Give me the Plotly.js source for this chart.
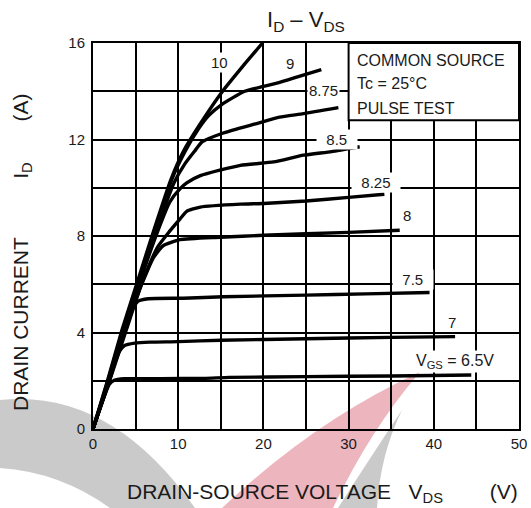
<!DOCTYPE html>
<html>
<head>
<meta charset="utf-8">
<script src="https://cdn.plot.ly/plotly-3.0.1.min.js"></script>
<style>
  html, body { margin: 0; padding: 0; background: #ffffff; }
  #chart { width: 531px; height: 508px; }
</style>
</head>
<body>
<div id="chart"></div>
<script>
// Output characteristics I_D vs V_DS, one curve per gate voltage (V)
const gateVoltages = ["6.5", "7", "7.5", "8", "8.25", "8.5", "8.75", "9", "10"];

const vds_65 = [0, 1.0, 1.9, 2.5, 3.7, 8, 13, 16, 25, 35, 44.4];
const id_65  = [0, 1.05, 1.85, 2.02, 2.08, 2.09, 2.1, 2.14, 2.17, 2.2, 2.24];

const vds_7 = [0, 1.4, 2.5, 3.1, 3.7, 4.9, 6.7, 10, 15, 25, 35, 42.5];
const id_7  = [0, 1.5, 2.7, 3.22, 3.46, 3.56, 3.6, 3.62, 3.68, 3.74, 3.8, 3.83];

const vds_75 = [0, 1.9, 3.7, 4.5, 5.3, 6.5, 10.6, 15.3, 25, 32, 39.5];
const id_75  = [0, 2.0, 4.2, 4.93, 5.3, 5.4, 5.42, 5.48, 5.55, 5.6, 5.66];

const vds_8 = [0, 1.95, 3.9, 5.6, 7.1, 8.25, 10.2, 14.9, 20, 30, 36];
const id_8  = [0, 2, 4.1, 5.9, 7.1, 7.6, 7.85, 7.95, 8.03, 8.15, 8.24];

const vds_825 = [0, 1.9, 3.8, 5.8, 7.6, 9.0, 10.2, 11.0, 12.6, 17.3, 20, 25, 30, 34.2];
const id_825  = [0, 2, 4.1, 6.1, 7.55, 8.2, 8.7, 9.02, 9.2, 9.32, 9.35, 9.45, 9.6, 9.73];

const vds_85 = [0, 1.85, 3.7, 5.6, 7.6, 9.0, 10.2, 11.0, 12.6, 17.3, 21.2, 24.7, 28, 31.3];
const id_85  = [0, 2, 4.1, 6.2, 8.2, 9.4, 9.95, 10.2, 10.5, 10.93, 11.07, 11.35, 11.5, 11.7];

const vds_875 = [0, 1.8, 3.6, 5.5, 7.5, 9.5, 10.8, 12.0, 12.8, 15.3, 19.2, 21.9, 24.7, 28.8];
const id_875  = [0, 2, 4.1, 6.2, 8.3, 10.2, 11.0, 11.55, 11.9, 12.27, 12.66, 12.93, 13.07, 13.32];

const vds_9 = [0, 1.75, 3.5, 5.4, 7.3, 9.2, 10.8, 12.4, 13.6, 15.1, 17.8, 20, 22, 24, 26.8];
const id_9  = [0, 2, 4.1, 6.2, 8.3, 10.3, 11.5, 12.45, 13.0, 13.45, 14.0, 14.2, 14.38, 14.6, 14.9];

const vds_10 = [0, 1.7, 3.4, 5.3, 7.2, 9.1, 10.6, 12.5, 15.1, 17.5, 19.9];
const id_10  = [0, 2, 4.1, 6.2, 8.3, 10.3, 11.5, 12.6, 13.95, 15.0, 16.0];

const curveX = [vds_65, vds_7, vds_75, vds_8, vds_825, vds_85, vds_875, vds_9, vds_10];
const curveY = [id_65, id_7, id_75, id_8, id_825, id_85, id_875, id_9, id_10];

// Curve labels: text and anchor point in data units; boxed ones sit on grid lines
const labelText = ["V<sub>GS</sub> = 6.5V", "7", "7.5", "8", "8.25", "8.5", "8.75", "9", "10"];
const labelX = [42.5, 42.1, 37.6, 36.8, 33.2, 28.6, 27.1, 23.1, 14.8];
const labelY = [2.79, 4.4, 6.2, 8.86, 10.2, 12.0, 14.04, 15.17, 15.2];
const labelBoxed = [true, false, true, false, true, true, true, false, true];
const labelPad = [0, 0, 2, 0, 2, 2, 0, 0, 0];
const labelSize = [16, 15, 15, 15, 15, 15, 15, 15, 15];

const xTicks = [0, 10, 20, 30, 40, 50];
const yTicks = [0, 4, 8, 12, 16];

const FONT = '"Liberation Sans", Arial, Helvetica, sans-serif';
const INK = '#1a1a1a';

const traces = curveX.map((xs, k) => ({
  type: 'scatter',
  mode: 'lines',
  x: xs,
  y: curveY[k],
  name: 'VGS = ' + gateVoltages[k] + ' V',
  line: { color: '#000000', width: 3.4, shape: 'spline', smoothing: 0.5 },
  hoverinfo: 'skip'
}));

// plot box in pixels, used to place decorative watermark paths
const L = 93, R = 519, T = 43, B = 429;
const px = (x, y) => ((x - L) / (R - L)).toFixed(4) + ',' + ((B - y) / (B - T)).toFixed(4);

const nb = n => '\u00a0'.repeat(n);

const annotations = labelText.map((t, k) => ({
  x: labelX[k], y: labelY[k], xref: 'x', yref: 'y',
  text: nb(labelPad[k]) + t + nb(labelPad[k]),
  showarrow: false,
  font: { family: FONT, size: labelSize[k], color: INK },
  bgcolor: labelBoxed[k] ? '#ffffff' : 'rgba(0,0,0,0)',
  borderpad: 1,
  xanchor: 'center', yanchor: 'middle'
}));

// condition box text
const boxLines = ["COMMON SOURCE", "Tc = 25°C", "PULSE TEST"];
const boxLineY = [15.28, 14.31, 13.3];
boxLines.forEach((t, k) => annotations.push({
  x: 30.7, y: boxLineY[k], xref: 'x', yref: 'y', text: t, showarrow: false,
  xanchor: 'left', yanchor: 'middle',
  font: { family: FONT, size: 16, color: INK }
}));

// chart title
annotations.push({
  xref: 'paper', yref: 'paper', x: 0.5, y: 1, yshift: 22, xanchor: 'center', yanchor: 'middle',
  text: 'I<sub>D</sub> – V<sub>DS</sub>', showarrow: false,
  font: { family: FONT, size: 22, color: INK }
});
// axis titles
annotations.push({
  xref: 'paper', yref: 'paper', x: 0, y: 0, xshift: 229, yshift: -64, xanchor: 'center', yanchor: 'middle',
  text: 'DRAIN-SOURCE VOLTAGE' + nb(3) + 'V<sub>DS</sub>' + nb(8) + '(V)', showarrow: false,
  font: { family: FONT, size: 21, color: INK }
});
annotations.push({
  xref: 'paper', yref: 'paper', x: 0, y: 0.5, xshift: -71, yshift: -17, xanchor: 'center', yanchor: 'middle',
  textangle: -90,
  text: 'DRAIN CURRENT' + nb(10) + 'I<sub>D</sub>' + nb(7) + '(A)', showarrow: false,
  font: { family: FONT, size: 21, color: INK }
});

const shapes = [
  // watermark swooshes behind the grid
  { type: 'path', xref: 'paper', yref: 'paper', layer: 'below', line: { width: 0 },
    fillcolor: 'rgba(150,150,150,0.5)',
    path: 'M' + px(0, 400) + ' Q' + px(110, 388) + ' ' + px(195, 508) +
          ' L' + px(110, 508) + ' Q' + px(60, 472) + ' ' + px(0, 468) + ' Z' },
  { type: 'path', xref: 'paper', yref: 'paper', layer: 'below', line: { width: 0 },
    fillcolor: 'rgba(215,90,110,0.45)',
    path: 'M' + px(420, 372) + ' Q' + px(315, 420) + ' ' + px(222, 508) +
          ' L' + px(333, 508) + ' Q' + px(370, 430) + ' ' + px(420, 372) + ' Z' },
  { type: 'path', xref: 'paper', yref: 'paper', layer: 'below', line: { width: 0 },
    fillcolor: 'rgba(150,150,150,0.5)',
    path: 'M' + px(402, 410) + ' Q' + px(380, 455) + ' ' + px(377, 508) +
          ' L' + px(338, 508) + ' Q' + px(372, 455) + ' ' + px(402, 410) + ' Z' },
  // condition box
  { type: 'rect', xref: 'x', yref: 'y', x0: 30, x1: 50, y0: 12.8, y1: 16, layer: 'above',
    fillcolor: '#ffffff', line: { color: '#000000', width: 2 } }
];

const axisCommon = {
  showline: true, mirror: true, linecolor: '#000000', linewidth: 2,
  showgrid: true, gridcolor: '#000000', gridwidth: 2,
  zeroline: false, ticks: '', fixedrange: true,
  tickfont: { family: FONT, size: 15, color: INK }
};

const layout = {
  width: 531, height: 508,
  margin: { l: L, r: 531 - R, t: T, b: 508 - B, pad: 0 },
  paper_bgcolor: '#ffffff',
  plot_bgcolor: 'rgba(0,0,0,0)',
  showlegend: false,
  xaxis: Object.assign({}, axisCommon, {
    range: [0, 50], tickmode: 'array', tickvals: xTicks,
    minor: { dtick: 5, tick0: 0, showgrid: true, gridcolor: '#000000', gridwidth: 2 }
  }),
  yaxis: Object.assign({}, axisCommon, {
    range: [0, 16], tickmode: 'array', tickvals: yTicks, ticklabelstandoff: 3,
    minor: { dtick: 2, tick0: 0, showgrid: true, gridcolor: '#000000', gridwidth: 2 }
  }),
  shapes: shapes,
  annotations: annotations
};

Plotly.newPlot('chart', traces, layout, { displayModeBar: false, staticPlot: true });
</script>
</body>
</html>
